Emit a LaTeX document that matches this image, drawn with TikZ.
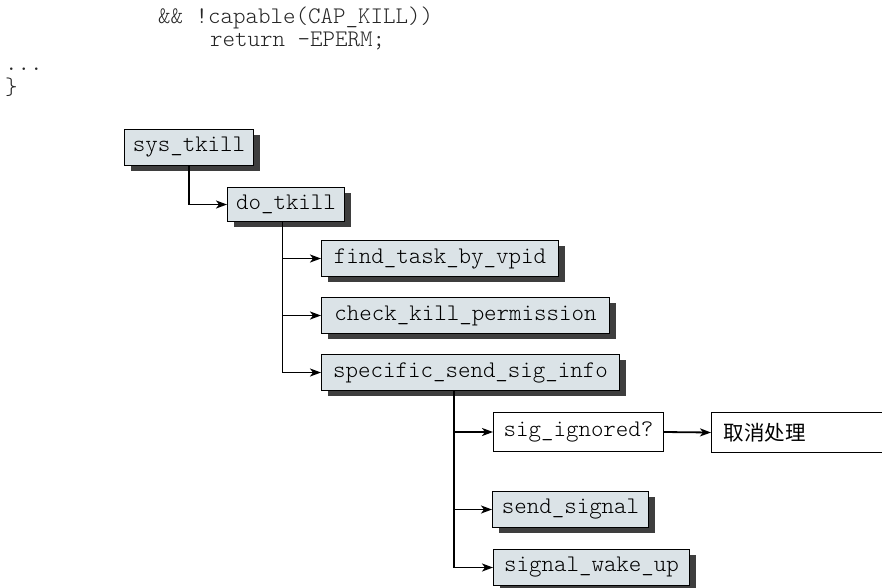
\documentclass[tikz,border=0pt]{standalone}
\usepackage{fontspec}
\setmonofont{Latin Modern Mono Light}
\newfontfamily\cjk{Noto Sans CJK SC}
\usetikzlibrary{shadows,arrows.meta}
\definecolor{boxfill}{RGB}{219,227,231}
\definecolor{shadowgray}{RGB}{62,62,62}
\begin{document}
\begin{tikzpicture}[x=1pt,y=-1pt,
  code/.style={font=\ttfamily\fontsize{23.8}{24}\selectfont, anchor=base west, inner sep=0pt, text=black!85},
  fn/.style={draw=black, line width=1pt, fill=boxfill, font=\ttfamily\fontsize{23.8}{24}\selectfont,
    anchor=north west, minimum height=36pt, inner sep=0pt,
    drop shadow={shadow xshift=6pt, shadow yshift=-5pt, fill=shadowgray, opacity=1}},
  plainbox/.style={draw=black, line width=1pt, fill=white, font=\ttfamily\fontsize{23.8}{24}\selectfont,
    anchor=north west, minimum height=39pt, inner sep=0pt},
  conn/.style={line width=1.8pt, -{Stealth[length=11pt,width=8pt,inset=3pt]}}]
\useasboundingbox (0,0) rectangle (882,587);

% code fragment
\node[code] (c1) at (158,23) {\&\& !capable(CAP\_KILL))};
\node[code] (c2) at (210,46.7) {return -EPERM;};
\node[code] (c3) at (5,70.4) {...};
\node[code] (c4) at (5,94) {\}};

% call tree
\node[fn, minimum width=129pt] (sys) at (124,129) {sys\_tkill};
\node[fn, minimum width=117pt, minimum height=34pt] (do) at (227,187) {do\_tkill};
\node[fn, minimum width=237pt] (find) at (321,240) {find\_task\_by\_vpid};
\node[fn, minimum width=288pt] (check) at (321,297) {check\_kill\_permission};
\node[fn, minimum width=298pt] (spec) at (321,354) {specific\_send\_sig\_info};
\node[plainbox, minimum width=170pt] (sig) at (493,412) {sig\_ignored?};
\node[plainbox, text width=166pt, align=left, inner xsep=12pt, minimum height=40pt] (cancel) at (711,412) {\cjk\fontsize{20.5}{24}\selectfont 取消处理};
\node[fn, minimum width=156pt] (send) at (492,491) {send\_signal};
\node[fn, minimum width=196pt] (wake) at (493,549) {signal\_wake\_up};

\draw[conn] (sys.south) |- (do.west);
\draw[conn] ([xshift=-3.5pt]do.south) |- (find.west);
\draw[conn] ([xshift=-3.5pt]do.south) |- (check.west);
\draw[conn] ([xshift=-3.5pt]do.south) |- (spec.west);
\draw[conn] ([xshift=133pt]spec.south west) |- (sig.west);
\draw[conn] ([xshift=133pt]spec.south west) |- (send.west);
\draw[conn] ([xshift=133pt]spec.south west) |- (wake.west);
\draw[conn] (sig.east) -- (cancel.west);
\end{tikzpicture}
\end{document}
